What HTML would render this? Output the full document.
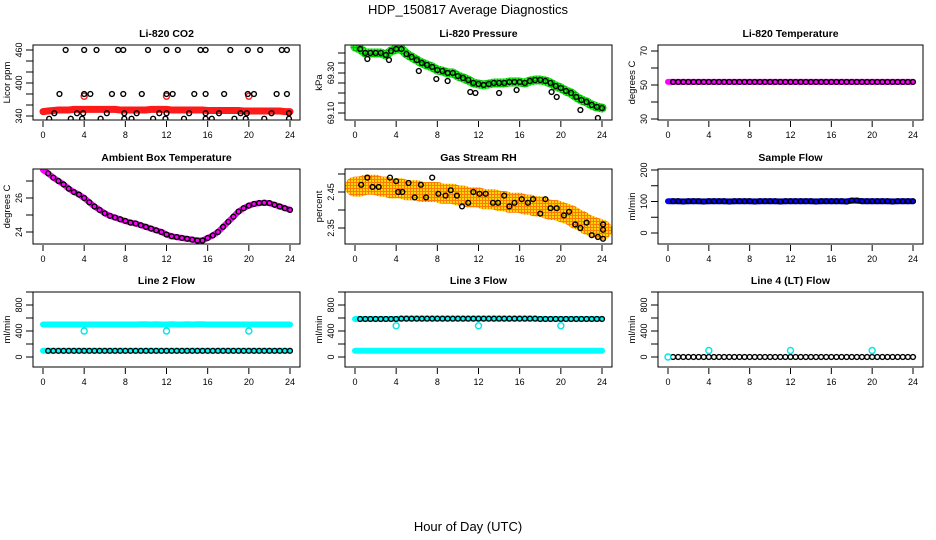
<!DOCTYPE html>
<html><head><meta charset="utf-8"><style>
html,body{margin:0;padding:0;background:#fff;}
svg{display:block;font-family:"Liberation Sans",Arial,sans-serif;}
</style></head><body>
<svg id="chart" width="936" height="540" viewBox="0 0 936 540" xmlns="http://www.w3.org/2000/svg">
<defs>
<pattern id="rhpat" width="3" height="3" patternUnits="userSpaceOnUse"><rect width="3" height="3" fill="#ff7a00"/><rect x="0" y="0" width="2" height="2" fill="#ffd800"/></pattern>
<pattern id="grpat" width="3" height="3" patternUnits="userSpaceOnUse"><rect width="3" height="3" fill="#00c000"/><rect x="0" y="0" width="2" height="2" fill="#22ee22"/></pattern>
</defs>
<text x="468" y="14" font-size="13" text-anchor="middle">HDP_150817  Average Diagnostics</text>
<text x="468" y="531" font-size="13" text-anchor="middle">Hour of Day (UTC)</text>
</svg>
<script>
const HOURS = [0,0.5,1,1.5,2,2.5,3,3.5,4,4.5,5,5.5,6,6.5,7,7.5,8,8.5,9,9.5,10,10.5,11,11.5,12,12.5,13,13.5,14,14.5,15,15.5,16,16.5,17,17.5,18,18.5,19,19.5,20,20.5,21,21.5,22,22.5,23,23.5,24];
const X_TICKS = [0,4,8,12,16,20,24];
// CO2
const co2Red = [348,349,350,351,351,351,352,352,352,352,352,352,352,352,352,351,351,351,351,351,351,352,352,352,352,351,351,351,351,351,351,351,350,350,350,350,350,350,350,349,349,349,349,349,349,349,349,348,348];
const co2RedOutT = [4,12,20];
const co2RedOutV = [376,376,376];
const co2BlackT = [2.2,4.0,5.2,7.3,7.8,10.2,12.0,13.1,15.3,15.8,18.2,19.9,21.1,23.2,23.7, 1.6,4.0,4.6,6.7,7.8,9.6,12.0,12.6,14.7,15.8,17.6,19.9,20.5,22.7,23.7, 1.1,3.3,3.9,6.2,7.9,9.1,11.3,12.0,14.2,15.8,17.1,19.2,19.8,22.2,23.9, 0.6,2.7,3.8,5.6,7.9,8.6,10.7,11.9,13.7,15.8,16.4,18.6,19.7,21.5,23.9];
const co2BlackV = [460,460,460,460,460,460,460,460,460,460,460,460,460,460,460, 380,380,380,380,380,380,380,380,380,380,380,380,380,380,380, 345,345,345,345,345,345,345,345,345,345,345,345,345,345,345, 335,335,335,335,335,335,335,335,335,335,335,335,335,335,335];
// Pressure
const pres = [69.43,69.42,69.40,69.40,69.40,69.40,69.39,69.41,69.42,69.42,69.395,69.38,69.365,69.35,69.34,69.33,69.315,69.31,69.30,69.30,69.285,69.275,69.265,69.25,69.245,69.24,69.245,69.25,69.25,69.25,69.255,69.255,69.255,69.25,69.26,69.265,69.265,69.26,69.25,69.235,69.225,69.21,69.20,69.18,69.165,69.155,69.14,69.13,69.125];
const presOutT = [1.2,3.3,6.2,7.9,9.0,11.2,11.7,14.0,15.7,19.1,19.6,21.9,23.6];
const presOutV = [69.37,69.365,69.31,69.27,69.26,69.205,69.20,69.20,69.215,69.205,69.18,69.115,69.075];
// Li-820 temperature
const licTemp = [51.8,51.8,51.8,51.8,51.8,51.8,51.8,51.8,51.8,51.8,51.8,51.8,51.8,51.8,51.8,51.8,51.8,51.8,51.8,51.8,51.8,51.8,51.8,51.8,51.8,51.8,51.8,51.8,51.8,51.8,51.8,51.8,51.8,51.8,51.8,51.8,51.8,51.8,51.8,51.8,51.8,51.8,51.8,51.8,51.8,51.8,51.8,51.8,51.8];
// Ambient box temperature
const ambTemp = [27.65,27.45,27.2,27.0,26.8,26.55,26.35,26.2,26.0,25.75,25.5,25.3,25.1,24.95,24.85,24.75,24.65,24.55,24.5,24.4,24.3,24.2,24.1,24.0,23.85,23.75,23.7,23.65,23.6,23.55,23.5,23.5,23.65,23.8,24.0,24.3,24.6,24.9,25.2,25.4,25.55,25.65,25.7,25.72,25.7,25.6,25.5,25.4,25.3];
// Gas stream RH
const rhBand = [2.465,2.465,2.47,2.47,2.47,2.465,2.465,2.46,2.46,2.46,2.455,2.455,2.455,2.45,2.45,2.45,2.45,2.445,2.445,2.445,2.44,2.44,2.435,2.435,2.435,2.43,2.43,2.43,2.425,2.425,2.42,2.42,2.42,2.415,2.415,2.41,2.41,2.405,2.40,2.40,2.395,2.39,2.385,2.375,2.37,2.36,2.355,2.35,2.345];
const rhT = [0.6,1.2,1.7,2.3,3.4,4.0,4.2,4.6,5.2,5.8,6.4,6.9,7.5,8.1,8.8,9.3,9.9,10.4,11.0,11.5,12.1,12.7,13.4,13.9,14.5,15.0,15.5,16.2,16.8,17.3,18.0,18.5,19.0,19.6,20.3,20.8,21.4,21.9,22.5,23.0,23.6,24.1,24.1,24.1];
const rhV = [2.47,2.49,2.464,2.464,2.49,2.48,2.45,2.45,2.475,2.435,2.47,2.435,2.49,2.445,2.44,2.455,2.44,2.41,2.42,2.45,2.445,2.445,2.42,2.42,2.44,2.41,2.42,2.43,2.42,2.43,2.39,2.43,2.405,2.405,2.385,2.395,2.36,2.35,2.365,2.33,2.325,2.32,2.345,2.36];
// Sample flow
const sampleFlow = [101,101,101,100,101,101,101,100,101,101,101,101,100,101,101,101,101,100,101,101,101,101,100,101,101,101,101,101,101,100,101,101,101,101,101,100,103,103,101,101,101,101,101,101,100,101,101,101,101];
// Line flows
const line2Cyan = [500,500,500,500,500,500,500,500,500,500,500,500,500,500,500,500,500,500,500,505,505,500,505,500,500,505,500,500,505,500,505,505,500,500,500,500,500,500,500,500,500,500,500,500,500,500,500,500,500];
const line2Low = [95,95,95,95,95,95,95,95,95,95,95,95,95,95,95,95,95,95,95,95,95,95,95,95,95,95,95,95,95,95,95,95,95,95,95,95,95,95,95,95,95,95,95,95,95,95,95,95,95];
const line2OutT = [4,12,20];
const line2OutV = [400,400,400];
const line3Black = [585,585,585,585,585,585,585,585,585,590,590,590,590,590,590,590,590,590,590,590,590,590,590,590,590,590,590,590,590,590,590,590,590,590,590,590,585,585,585,585,585,585,585,585,585,585,585,585,585];
const line3Low = [95,95,95,95,95,95,95,95,95,95,95,95,95,95,95,95,95,95,95,95,95,95,95,95,95,95,95,95,95,95,95,95,95,95,95,95,95,95,95,95,95,95,95,95,95,95,95,95,95];
const line3OutT = [4,12,20];
const line3OutV = [480,480,480];
const line4Black = [0,0,0,0,0,0,0,0,0,0,0,0,0,0,0,0,0,0,0,0,0,0,0,0,0,0,0,0,0,0,0,0,0,0,0,0,0,0,0,0,0,0,0,0,0,0,0,0,0];
const line4OutT = [0,4,12,20];
const line4OutV = [0,100,100,100];

const NS = 'http://www.w3.org/2000/svg';
const svg = document.getElementById('chart');
function el(tag, attrs, parent){ const e=document.createElementNS(NS,tag); for(const k in attrs) e.setAttribute(k,attrs[k]); parent.appendChild(e); return e; }
const COLS=[{l:33,r:300},{l:345,r:612},{l:658,r:923}];
const ROWS=[{t:45,b:120},{t:169,b:244},{t:292,b:367}];

function panel(cfg){
  const c=COLS[cfg.col], rw=ROWS[cfg.row];
  const g=el('g',{},svg);
  
  
  const x0=c.l+10, x24=c.r-10;
  const sx=t=>x0+(t/24)*(x24-x0);
  const sy=v=>cfg.y1+(v-cfg.v1)*(cfg.y2-cfg.y1)/(cfg.v2-cfg.v1);
  const clip=el('clipPath',{id:'clip-'+cfg.name},g);
  el('rect',{x:c.l,y:rw.t,width:c.r-c.l,height:rw.b-rw.t},clip);
  const plot=el('g',{'clip-path':'url(#clip-'+cfg.name+')'},g);
  const frame=el('rect',{x:c.l,y:rw.t,width:c.r-c.l,height:rw.b-rw.t,fill:'none',stroke:'#000','stroke-width':1},g);
  
  
  const ttl=el('text',{x:(c.l+c.r)/2,y:rw.t-8,'font-size':10.5,'font-weight':'bold','text-anchor':'middle'},g);
  ttl.textContent=cfg.title;
  
  
  X_TICKS.forEach(t=>{
    const tk=el('line',{x1:sx(t),x2:sx(t),y1:rw.b+1,y2:rw.b+7,stroke:'#000'},g);
    
    
    const lb=el('text',{x:sx(t),y:rw.b+18,'font-size':9,'text-anchor':'middle'},g);
    lb.textContent=t;
    
    
  });
  cfg.ticks.forEach(v=>{
    const yy=sy(v);
    const tk=el('line',{x1:c.l-7,x2:c.l,y1:yy,y2:yy,stroke:'#000'},g);
    
    
  });
  cfg.labels.forEach((v,i)=>{
    const yy=sy(v);
    const lb=el('text',{x:c.l-11,y:yy,'font-size':9,'text-anchor':'middle',transform:'rotate(-90 '+(c.l-11)+' '+yy+')'},g);
    lb.textContent=cfg.labelText[i];
    
    
  });
  const yl=el('text',{x:c.l-23,y:(rw.t+rw.b)/2,'font-size':9.5,'text-anchor':'middle',transform:'rotate(-90 '+(c.l-23)+' '+((rw.t+rw.b)/2)+')'},g);
  yl.textContent=cfg.ylab;
  
  
  return {plot,sx,sy};
}
function band(p, ts, vs, color, w, name){
  const pts=ts.map((t,i)=>p.sx(t).toFixed(1)+','+p.sy(vs[i]).toFixed(1)).join(' ');
  const pl=el('polyline',{points:pts,fill:'none',stroke:color,'stroke-width':w,'stroke-linecap':'round','stroke-linejoin':'round'},p.plot);
  
  
}
function circles(p, ts, vs, color, name, r){
  ts.forEach((t,i)=>{
    const ci=el('circle',{cx:p.sx(t),cy:p.sy(vs[i]),r:r||2.4,fill:'none',stroke:color,'stroke-width':1.4},p.plot);
    
    
  });
}
const HOURS_B = HOURS.slice(1);
function tail(a){ return a.slice(1); }

let p=panel({name:'co2-panel',col:0,row:0,title:'Li-820 CO2',ylab:'Licor ppm',v1:340,y1:116,v2:460,y2:50,ticks:[340,360,380,400,420,440,460],labels:[340,400,460],labelText:['340','400','460']});
band(p,HOURS,co2Red,'#ff1a1a',7,'co2-red-series');
circles(p,co2RedOutT,co2RedOutV,'#ff1a1a','co2-red-outlier',3);
circles(p,co2BlackT,co2BlackV,'#000','co2-black-point');
p=panel({name:'pressure-panel',col:1,row:0,title:'Li-820 Pressure',ylab:'kPa',v1:69.10,y1:113,v2:69.30,y2:73,ticks:[69.10,69.15,69.20,69.25,69.30,69.35,69.40],labels:[69.10,69.30],labelText:['69.10','69.30']});
band(p,HOURS,pres,'url(#grpat)',9,'pressure-green-series');
circles(p,HOURS_B,tail(pres),'#000','pressure-black-point');
circles(p,presOutT,presOutV,'#000','pressure-outlier');
p=panel({name:'licor-temp-panel',col:2,row:0,title:'Li-820 Temperature',ylab:'degrees C',v1:30,y1:119,v2:70,y2:51,ticks:[30,40,50,60,70],labels:[30,50,70],labelText:['30','50','70']});
band(p,HOURS,licTemp,'#ff00ff',6,'licor-temp-magenta-series');
circles(p,HOURS_B,tail(licTemp),'#000','licor-temp-black-point');
p=panel({name:'ambient-temp-panel',col:0,row:1,title:'Ambient Box Temperature',ylab:'degrees C',v1:24,y1:232,v2:26,y2:198,ticks:[24,25,26,27],labels:[24,26],labelText:['24','26']});
band(p,HOURS,ambTemp,'#ff00ff',6,'ambient-temp-magenta-series');
circles(p,HOURS_B,tail(ambTemp),'#000','ambient-temp-black-point');
p=panel({name:'rh-panel',col:1,row:1,title:'Gas Stream RH',ylab:'percent',v1:2.35,y1:228,v2:2.45,y2:192,ticks:[2.35,2.40,2.45,2.50],labels:[2.35,2.45],labelText:['2.35','2.45']});
band(p,HOURS,rhBand,'url(#rhpat)',20,'rh-orange-series');
circles(p,rhT,rhV,'#000','rh-black-point');
p=panel({name:'sample-flow-panel',col:2,row:1,title:'Sample Flow',ylab:'ml/min',v1:0,y1:233,v2:200,y2:170,ticks:[0,50,100,150,200],labels:[0,100,200],labelText:['0','100','200']});
band(p,HOURS,sampleFlow,'#0000ff',6,'sample-flow-blue-series');
circles(p,HOURS_B,tail(sampleFlow),'#000','sample-flow-black-point');
p=panel({name:'line2-flow-panel',col:0,row:2,title:'Line 2 Flow',ylab:'ml/min',v1:0,y1:357,v2:800,y2:305,ticks:[0,200,400,600,800,1000],labels:[0,400,800],labelText:['0','400','800']});
band(p,HOURS,line2Cyan,'#00ffff',6,'line2-cyan-high-series');
band(p,HOURS,line2Low,'#00ffff',6,'line2-cyan-low-series');
circles(p,HOURS_B,tail(line2Low),'#000','line2-black-point');
circles(p,line2OutT,line2OutV,'#00e5e5','line2-cyan-outlier',3);
p=panel({name:'line3-flow-panel',col:1,row:2,title:'Line 3 Flow',ylab:'ml/min',v1:0,y1:357,v2:800,y2:305,ticks:[0,200,400,600,800,1000],labels:[0,400,800],labelText:['0','400','800']});
band(p,HOURS,line3Black,'#00ffff',6,'line3-cyan-high-series');
band(p,HOURS,line3Low,'#00ffff',6,'line3-cyan-low-series');
circles(p,HOURS_B,tail(line3Black),'#000','line3-black-point');
circles(p,line3OutT,line3OutV,'#00e5e5','line3-cyan-outlier',3);
p=panel({name:'line4-flow-panel',col:2,row:2,title:'Line 4 (LT) Flow',ylab:'ml/min',v1:0,y1:357,v2:800,y2:305,ticks:[0,200,400,600,800,1000],labels:[0,400,800],labelText:['0','400','800']});
circles(p,HOURS_B,tail(line4Black),'#000','line4-black-point');
circles(p,line4OutT,line4OutV,'#00e5e5','line4-cyan-outlier',3);
</script>
</body></html>
